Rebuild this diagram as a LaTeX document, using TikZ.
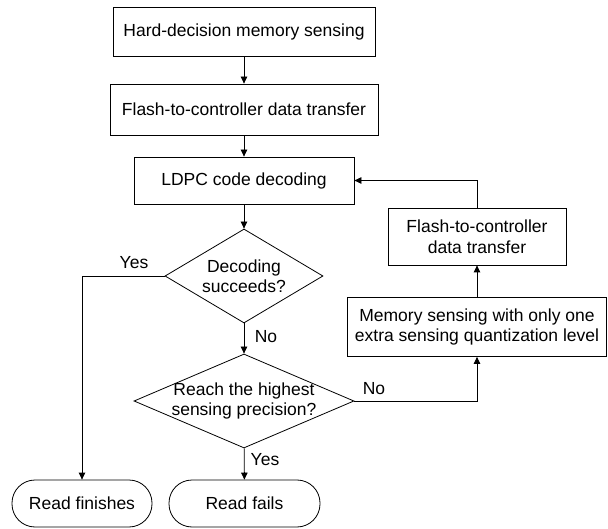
\documentclass[tikz,border=0pt]{standalone}
\usepackage{fontspec}
\setmainfont{Liberation Sans}
\usetikzlibrary{arrows.meta,shapes.geometric}

\begin{document}
\begin{tikzpicture}[x=1pt,y=-1pt]
\tikzset{
  txt/.style={font=\fontsize{17.5}{20.5}\selectfont},
  procbox/.style={rectangle,draw,line width=0.8pt,inner sep=0pt,align=center,txt},
  decision/.style={diamond,draw,line width=0.8pt,inner sep=0pt},
  endbox/.style={rectangle,rounded corners=23pt,draw,line width=0.8pt,minimum height=47pt,inner sep=0pt,txt},
  flow/.style={-{Triangle[length=7pt,width=6.5pt]},line width=0.8pt},
  lbl/.style={inner sep=0pt,txt}
}
\useasboundingbox (0,0) rectangle (608,529);
% main column
\node[procbox,minimum width=262pt,minimum height=49pt] (n_sense) at (244,31.5) {Hard-decision memory sensing};
\node[procbox,minimum width=268pt,minimum height=51pt] (n_xfer) at (244,109.5) {Flash-to-controller data transfer};
\node[procbox,minimum width=220pt,minimum height=47pt] (n_ldpc) at (244,180.5) {LDPC code decoding};
\node[decision,minimum width=158pt,minimum height=94pt,
  label={[txt,align=center]center:Decoding\\succeeds?}] (n_succ) at (244,276) {};
\node[decision,minimum width=220pt,minimum height=94pt,
  label={[txt,align=center]center:Reach the highest\\sensing precision?}] (n_prec) at (244,401) {};
\node[endbox,minimum width=140pt] (n_fin) at (82,503.5) {Read finishes};
\node[endbox,minimum width=151pt] (n_fail) at (244.5,503.5) {Read fails};
% retry column
\node[procbox,minimum width=178pt,minimum height=57pt] (n_xfer2) at (477,236.5) {Flash-to-controller\\data transfer};
\node[procbox,minimum width=259pt,minimum height=59pt] (n_sense2) at (477,327) {Memory sensing with only one\\extra sensing quantization level};
% branch labels
\node[lbl] (l_yes1) at (134,263) {Yes};
\node[lbl] (l_no1) at (266,337) {No};
\node[lbl] (l_no2) at (374,389) {No};
\node[lbl] (l_yes2) at (265,460) {Yes};
% connectors
\draw[flow] (n_sense) -- (n_xfer);
\draw[flow] (n_xfer) -- (n_ldpc);
\draw[flow] (n_ldpc) -- (n_succ);
\draw[flow] (n_succ) -- (n_prec);
\draw[flow] (n_prec) -- (n_fail);
\draw[flow] (n_succ.west) -| (n_fin.north);
\draw[flow] (n_prec.east) -| (n_sense2.south);
\draw[flow] (n_sense2) -- (n_xfer2);
\draw[flow] (n_xfer2.north) |- (n_ldpc.east);
\end{tikzpicture}
\end{document}
